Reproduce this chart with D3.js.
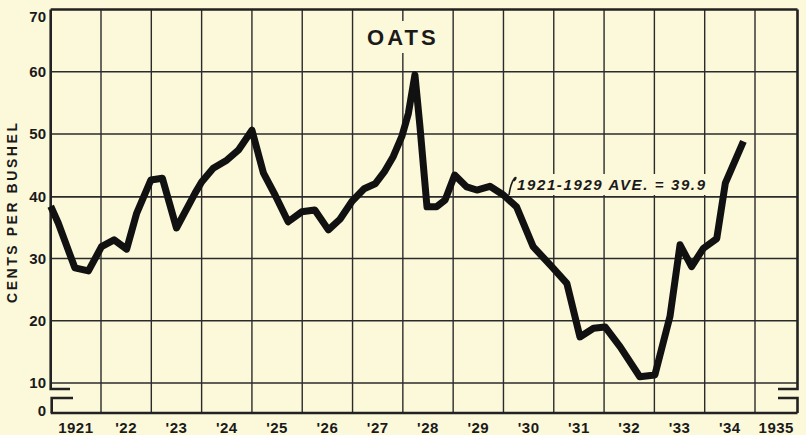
<!DOCTYPE html>
<html><head><meta charset="utf-8">
<script src="https://cdn.jsdelivr.net/npm/d3@7"></script>
<style>html,body{margin:0;padding:0;background:#fcf8da;} svg{display:block}</style>
</head><body><svg id="c" width="806" height="435"></svg>
<script>
// ---- data ----
const dates = [1921.00,1921.15,1921.48,1921.75,1922.01,1922.26,1922.51,1922.71,1922.99,1923.22,1923.50,1923.87,
  1924.00,1924.23,1924.50,1924.73,1925.00,1925.23,1925.46,1925.72,1925.99,1926.25,1926.52,1926.75,1926.99,
  1927.23,1927.45,1927.63,1927.81,1927.98,1928.11,1928.24,1928.34,1928.48,1928.67,1928.84,1929.03,1929.27,
  1929.47,1929.73,1930.00,1930.26,1930.59,1930.96,1931.26,1931.52,1931.79,1932.02,1932.32,1932.71,1933.01,
  1933.31,1933.51,1933.74,1933.97,1934.24,1934.41,1934.77];
const prices = [38.4,35.7,28.5,28.0,31.9,33.0,31.5,37.3,42.6,42.9,34.9,40.5,
  42.3,44.5,45.8,47.4,50.6,43.7,40.2,35.9,37.5,37.8,34.6,36.3,39.2,
  41.2,42.0,43.9,46.4,49.6,53.3,59.5,51.2,38.3,38.3,39.4,43.4,41.5,
  41.0,41.6,40.2,38.3,31.9,28.7,26.0,17.4,18.8,19.0,15.8,11.0,11.3,
  20.7,32.2,28.7,31.6,33.2,42.1,48.8];
const years = [1921,1922,1923,1924,1925,1926,1927,1928,1929,1930,1931,1932,1933,1934,1935];
const yearLabels = ["1921","'22","'23","'24","'25","'26","'27","'28","'29","'30","'31","'32","'33","'34","1935"];
const yTicks = [10,20,30,40,50,60,70];
const average = 39.9;
const averageLabel = "1921-1929 AVE. = 39.9";
const title = "OATS";
const yTitle = "CENTS PER BUSHEL";

// ---- layout ----
const svg = d3.select("#c");
const x = d3.scaleLinear().domain([1921,1935]).range([50.7,755]);
const xRight = 797.5;
const y = d3.scaleLinear().domain([10,70]).range([383,9.5]);
const yZero = 413;
const x0 = x(1921);
const ink = "#2b2b2b";
const bg = "#fcf8da";
const font = "'Liberation Sans', Arial, sans-serif";

// grid horizontals
svg.append("g").selectAll("line").data(yTicks.filter(v=>v!==70 && v!==40)).join("line")
  .attr("x1",x0).attr("x2",xRight).attr("y1",d=>y(d)).attr("y2",d=>y(d))
  .attr("stroke",ink).attr("stroke-width",1.4);
// average line
svg.append("line").attr("x1",x0).attr("x2",xRight).attr("y1",y(average)).attr("y2",y(average))
  .attr("stroke",ink).attr("stroke-width",1.8);
// grid verticals
svg.append("g").selectAll("line").data(years.slice(1)).join("line")
  .attr("x1",d=>x(d)).attr("x2",d=>x(d)).attr("y1",y(70)).attr("y2",yZero)
  .attr("stroke",ink).attr("stroke-width",1.4);

// frame with axis breaks
const frame = svg.append("g").attr("fill","none").attr("stroke","#222").attr("stroke-width",2.6);
frame.append("path").attr("d",`M${x0},${y(70)}H${xRight}`);
frame.append("path").attr("d",`M${x0},${y(70)}V389H70`);
frame.append("path").attr("d",`M73,398H${x0+1}V${yZero}`);
frame.append("path").attr("d",`M${x0},${yZero}H${xRight}`);
frame.append("path").attr("d",`M${xRight},${y(70)}V389H778`);
frame.append("path").attr("d",`M778,398H${xRight}V${yZero}`);

// title
svg.append("rect").attr("x",362).attr("y",21).attr("width",80).attr("height",32).attr("fill",bg);
svg.append("text").attr("x",x(1928)).attr("y",45).attr("text-anchor","middle")
  .attr("font-family",font).attr("font-weight","bold").attr("font-size",22)
  .attr("letter-spacing",3).attr("fill","#1a1a1a").text(title);

// average label
svg.append("rect").attr("x",507).attr("y",174).attr("width",201).attr("height",21).attr("fill",bg);
svg.append("path").attr("d","M509,195 C510,188 511,183 514,179 C516,176 517,178 514,181")
  .attr("fill","none").attr("stroke","#1a1a1a").attr("stroke-width",1.6);
svg.append("text").attr("x",517).attr("y",190).attr("font-family",font).attr("font-weight","bold")
  .attr("font-style","italic").attr("font-size",15).attr("fill","#1a1a1a")
  .attr("textLength",188).attr("lengthAdjust","spacing").text(averageLabel);

// data line
svg.append("path").datum(dates.map((d,i)=>[d,prices[i]]))
  .attr("d", d3.line().x(d=>x(d[0])).y(d=>y(d[1])))
  .attr("fill","none").attr("stroke","#111").attr("stroke-width",7)
  .attr("stroke-linejoin","round");

// y tick labels
const yl = svg.append("g").attr("font-family",font).attr("font-weight","bold").attr("font-size",15)
  .attr("fill","#1a1a1a").attr("text-anchor","end");
yl.selectAll("text").data(yTicks).join("text")
  .attr("x",46).attr("y",d=>Math.max(y(d),16.5)+5.3).text(d=>d);
yl.append("text").attr("x",46).attr("y",yZero+2.5).text("0");

// y title
svg.append("text").attr("transform","translate(17,213) rotate(-90)").attr("text-anchor","middle")
  .attr("font-family",font).attr("font-weight","bold").attr("font-size",14).attr("fill","#1a1a1a")
  .attr("textLength",180).attr("lengthAdjust","spacing").text(yTitle);

// x labels
svg.append("g").selectAll("text").data(years).join("text")
  .attr("x",(d,i)=> i===years.length-1 ? (x(d)+xRight)/2 : x(d+0.5))
  .attr("y",433).attr("text-anchor","middle")
  .attr("font-family",font).attr("font-weight","bold").attr("font-size",15)
  .attr("letter-spacing",0.5).attr("fill","#1a1a1a")
  .text((d,i)=>yearLabels[i]);
</script></body></html>
